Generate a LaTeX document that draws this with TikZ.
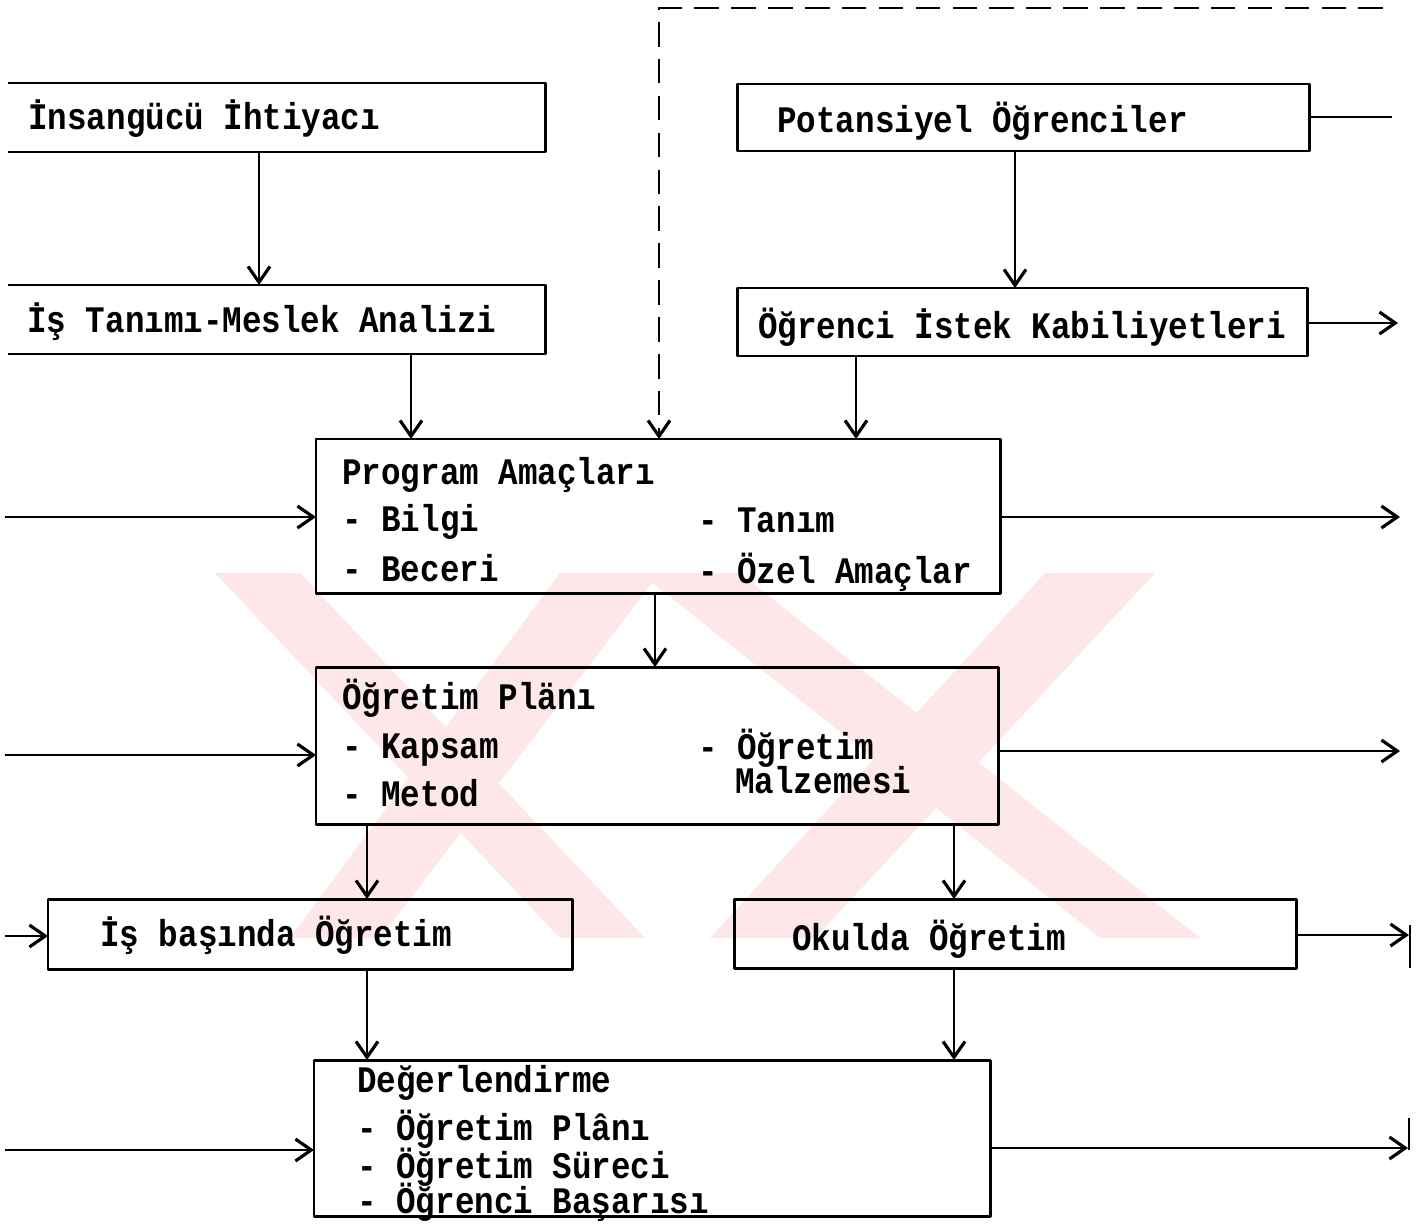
\documentclass[tikz,border=0pt]{standalone}
\usepackage{fontspec}
\newfontfamily\tw{Liberation Mono}[FakeStretch=0.87]
\usetikzlibrary{arrows.meta,fit}
\definecolor{wm}{RGB}{253,231,233}
\begin{document}
\begin{tikzpicture}[x=0.02cm,y=-0.02cm,
  box/.style={draw, line width=1.7pt, inner sep=0pt, outer sep=0pt, line join=round},
  openbox/.style={inner sep=0pt, outer sep=0pt},
  txt/.style={anchor=base west, inner sep=0pt, font=\tw\bfseries\fontsize{21.3pt}{24pt}\selectfont},
  conn/.style={line width=1.1pt, -{Straight Barb[length=9pt,width=12.5pt,line width=1.8pt]}},
  plain/.style={line width=1.1pt},
  dashconn/.style={line width=1.6pt, dash pattern=on 14pt off 7pt, -{Straight Barb[length=9pt,width=12.5pt,line width=1.8pt]}}
]
\useasboundingbox (0,0) rectangle (1425,1223);
\fill[white] (0,0) rectangle (1425,1223);

% watermark
\fill[wm] (215,573) -- (300,573) -- (645,938) -- (560,938) -- cycle;
\fill[wm] (560,573) -- (660,573) -- (380,938) -- (290,938) -- cycle;
\fill[wm] (1045,573) -- (1155,573) -- (815,938) -- (710,938) -- cycle;
\fill[wm] (640,573) -- (740,573) -- (1200,938) -- (1100,938) -- cycle;

% boxes
\node[openbox, fit={(8,83) (545,152)}] (insan) {};
\node[openbox, fit={(8,285) (545,354)}] (istanimi) {};
\draw[line width=1.7pt, line join=round] (insan.north west) -- (insan.north east) -- (insan.south east) -- (insan.south west);
\draw[line width=1.7pt, line join=round] (istanimi.north west) -- (istanimi.north east) -- (istanimi.south east) -- (istanimi.south west);
\node[box, fit={(737,84) (1309,151)}] (potans) {};
\node[box, fit={(737,288) (1307,356)}] (ogristek) {};
\node[box, fit={(316,439) (1000,593)}] (program) {};
\node[box, fit={(316,667) (998,824)}] (plan) {};
\node[box, fit={(48,899) (572,969)}] (isbas) {};
\node[box, fit={(734,899) (1296,968)}] (okul) {};
\node[box, fit={(314,1060) (990,1216)}] (deger) {};

% texts
\node[txt] (t1) at (28,130) {İnsangücü İhtiyacı};
\node[txt] (t2) at (27,332) {İş Tanımı-Meslek Analizi};
\node[txt] (t3) at (777,133) {Potansiyel Öğrenciler};
\node[txt] (t4) at (758,338) {Öğrenci İstek Kabiliyetleri};
\node[txt] (t5) at (342,484) {Program Amaçları};
\node[txt] (t6) at (342,531) {- Bilgi};
\node[txt] (t7) at (698,532) {- Tanım};
\node[txt] (t8) at (342,581) {- Beceri};
\node[txt] (t9) at (698,583) {- Özel Amaçlar};
\node[txt] (t10) at (342,709) {Öğretim Plänı};
\node[txt] (t11) at (342,758) {- Kapsam};
\node[txt] (t12) at (698,759) {- Öğretim};
\node[txt] (t13) at (735,793) {Malzemesi};
\node[txt] (t14) at (342,806) {- Metod};
\node[txt] (t15) at (100,946) {İş başında Öğretim};
\node[txt] (t16) at (792,950) {Okulda Öğretim};
\node[txt] (t17) at (357,1092) {Değerlendirme};
\node[txt] (t18) at (357,1140) {- Öğretim Plânı};
\node[txt] (t19) at (357,1178) {- Öğretim Süreci};
\node[txt] (t20) at (357,1213) {- Öğrenci Başarısı};

% x positions of vertical connectors
\coordinate (xa) at (259,0);
\coordinate (xb) at (1015,0);
\coordinate (xc) at (411,0);
\coordinate (xd) at (856,0);
\coordinate (xe) at (655,0);
\coordinate (xf) at (367,0);
\coordinate (xg) at (954,0);

\draw[conn] (insan.south -| xa) -- (istanimi.north -| xa);
\draw[conn] (potans.south -| xb) -- (ogristek.north -| xb);
\draw[conn] (istanimi.south -| xc) -- (program.north -| xc);
\draw[conn] (ogristek.south -| xd) -- (program.north -| xd);
\draw[conn] (program.south -| xe) -- (plan.north -| xe);
\draw[conn] (plan.south -| xf) -- (isbas.north -| xf);
\draw[conn] (plan.south -| xg) -- (okul.north -| xg);
\draw[conn] (isbas.south -| xf) -- (deger.north -| xf);
\draw[conn] (okul.south -| xg) -- (deger.north -| xg);

% dashed feedback
\coordinate (dtop) at (1383,8);
\coordinate (dcorner) at (659,8);
\draw[dashconn] (dtop) -- (dcorner) -- (program.north -| dcorner);

% left inputs
\coordinate (in1) at (5,517);
\coordinate (in2) at (5,755);
\coordinate (in3) at (5,936);
\coordinate (in4) at (5,1150);
\draw[conn] (in1) -- (program.west |- in1);
\draw[conn] (in2) -- (plan.west |- in2);
\draw[conn] (in3) -- (isbas.west |- in3);
\draw[conn] (in4) -- (deger.west |- in4);

% right outputs
\coordinate (out0) at (1392,117);
\coordinate (out1) at (1398,323);
\coordinate (out2) at (1400,517);
\coordinate (out3) at (1400,751);
\coordinate (out4) at (1409,935);
\coordinate (out5) at (1408,1148);
\draw[plain] (potans.east |- out0) -- (out0);
\draw[conn] (ogristek.east |- out1) -- (out1);
\draw[conn] (program.east |- out2) -- (out2);
\draw[conn] (plan.east |- out3) -- (out3);
\draw[conn] (okul.east |- out4) -- (out4);
\draw[conn] (deger.east |- out5) -- (out5);
\coordinate (v1a) at (1410,925);
\coordinate (v1b) at (1410,968);
\coordinate (v2a) at (1409,1118);
\coordinate (v2b) at (1409,1150);
\draw[plain] (v1a) -- (v1b);
\draw[plain] (v2a) -- (v2b);
\end{tikzpicture}
\end{document}
